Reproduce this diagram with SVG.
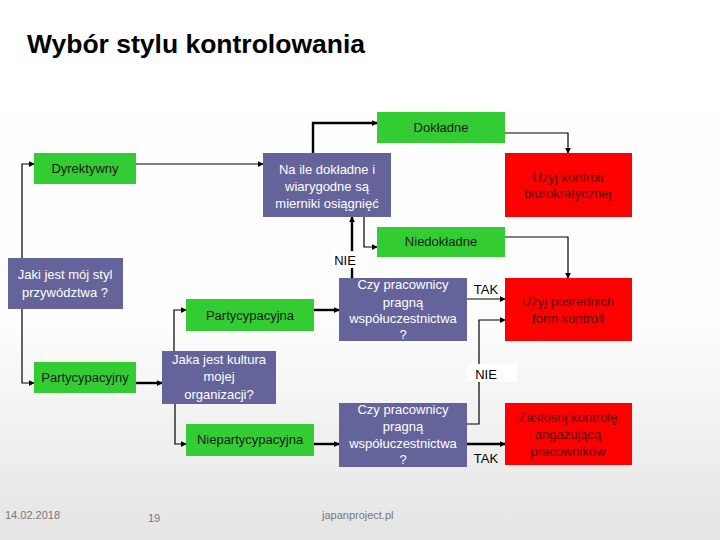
<svg xmlns="http://www.w3.org/2000/svg" width="720" height="540" viewBox="0 0 720 540">
<defs>
<linearGradient id="bg" x1="0" y1="0" x2="0" y2="1">
<stop offset="0" stop-color="#ffffff"/>
<stop offset="0.6" stop-color="#fdfdfd"/>
<stop offset="1" stop-color="#e4e4e4"/>
</linearGradient>
<marker id="ah" viewBox="0 0 8 8" refX="7" refY="4" markerWidth="6" markerHeight="6" markerUnits="userSpaceOnUse" orient="auto">
<path d="M0,0 L8,4 L0,8 z" fill="#000"/>
</marker>
<style>
.g{fill:#33cc33}
.p{fill:#64649a}
.r{fill:#ff0000}
text{font-family:"Liberation Sans",Arial,sans-serif;font-size:13px;text-anchor:middle}
.tg{fill:#1a1a1a}
.tp{fill:#ffffff}
.tr{fill:#5a0000;font-size:13px}
.lbl{fill:#000;font-size:13px}
.c{fill:none;stroke:#000;stroke-width:1.2;marker-end:url(#ah)}
.ct{fill:none;stroke:#000;stroke-width:2.4;marker-end:url(#ah)}
.foot{fill:#777;font-size:11px;text-anchor:start}
</style>
</defs>
<rect x="0" y="0" width="720" height="540" fill="url(#bg)"/>
<text x="27" y="53" textLength="338" lengthAdjust="spacingAndGlyphs" style="font-size:25px;font-weight:bold;text-anchor:start;fill:#000">Wybór stylu kontrolowania</text>

<g id="connectors">
<path class="c" d="M22,258 V164 H34"/>
<path class="c" d="M136,164 H263"/>
<path class="ct" d="M313,154 V123 H377"/>
<path class="c" d="M505,133 H568 V153"/>
<path class="c" d="M364,217 V247 H377"/>
<path class="c" d="M505,237 H568 V278"/>
<path class="ct" d="M352,278 V217"/>
<path class="c" d="M22,309 V383 H34"/>
<path class="ct" d="M136,383 H162"/>
<path class="c" d="M174,351 V310 H186"/>
<path class="ct" d="M314,310 H339"/>
<path class="c" d="M175,404 V444 H186"/>
<path class="ct" d="M314,444 H339"/>
<path class="c" d="M467,299 H505"/>
<path class="c" d="M467,424 H479 V320 H505"/>
<path class="ct" d="M467,444 H505"/>
</g>

<g id="n_dokladne"><rect class="g" x="377" y="112" width="128" height="31"/><text class="tg" x="441" y="132">Dokładne</text></g>
<g id="n_dyrektywny"><rect class="g" x="34" y="153" width="102" height="31"/><text class="tg" x="85" y="173">Dyrektywny</text></g>
<g id="n_naile"><rect class="p" x="263" y="153" width="128" height="64"/>
<text class="tp" x="327" y="174">Na ile dokładne i</text><text class="tp" x="327" y="191">wiarygodne są</text><text class="tp" x="327" y="208">mierniki osiągnięć</text></g>
<g id="n_biuro"><rect class="r" x="505" y="153" width="127" height="64"/>
<text class="tr" x="568" y="182">Użyj kontroli</text><text class="tr" x="568" y="198">biurokratycznej</text></g>
<g id="n_niedokladne"><rect class="g" x="377" y="227" width="128" height="30"/><text class="tg" x="441" y="246">Niedokładne</text></g>
<g id="l_nie1"><rect x="333" y="251" width="24" height="17" fill="#fff"/><text class="lbl" x="345" y="265">NIE</text></g>
<g id="n_jaki"><rect class="p" x="8" y="258" width="115" height="51"/>
<text class="tp" x="65" y="279">Jaki jest mój styl</text><text class="tp" x="65" y="297">przywództwa ?</text></g>
<g id="n_partna"><rect class="g" x="186" y="299" width="128" height="32"/><text class="tg" x="250" y="320">Partycypacyjna</text></g>
<g id="n_czy1"><rect class="p" x="339" y="278" width="128" height="63"/>
<text class="tp" x="403" y="289">Czy pracownicy</text><text class="tp" x="403" y="307">pragną</text><text class="tp" x="403" y="323">współuczestnictwa</text><text class="tp" x="403" y="339">?</text></g>
<g id="l_tak1"><text class="lbl" x="486" y="294">TAK</text></g>
<g id="n_posr"><rect class="r" x="505" y="278" width="127" height="63"/>
<text class="tr" x="568" y="306">Użyj pośrednich</text><text class="tr" x="568" y="323">form kontroli</text></g>
<g id="l_nie2"><rect x="467" y="364" width="50" height="18" fill="#fff"/><text class="lbl" x="486" y="379">NIE</text></g>
<g id="n_partny"><rect class="g" x="34" y="362" width="102" height="31"/><text class="tg" x="85" y="382">Partycypacyjny</text></g>
<g id="n_jaka"><rect class="p" x="162" y="351" width="114" height="53"/>
<text class="tp" x="219" y="364">Jaka jest kultura</text><text class="tp" x="219" y="381">mojej</text><text class="tp" x="219" y="399">organizacji?</text></g>
<g id="n_niepart"><rect class="g" x="186" y="424" width="128" height="32"/><text class="tg" x="250" y="444">Niepartycypacyjna</text></g>
<g id="n_czy2"><rect class="p" x="339" y="403" width="128" height="64"/>
<text class="tp" x="403" y="414">Czy pracownicy</text><text class="tp" x="403" y="431">pragną</text><text class="tp" x="403" y="448">współuczestnictwa</text><text class="tp" x="403" y="464">?</text></g>
<g id="l_tak2"><text class="lbl" x="486" y="463">TAK</text></g>
<g id="n_zast"><rect class="r" x="505" y="403" width="127" height="62"/>
<text class="tr" x="568" y="422">Zastosuj kontrolę</text><text class="tr" x="568" y="439">angażującą</text><text class="tr" x="568" y="456">pracowników</text></g>

<text class="foot" x="5" y="519">14.02.2018</text>
<text class="foot" x="148" y="522">19</text>
<text class="foot" x="322" y="519">japanproject.pl</text>
</svg>
